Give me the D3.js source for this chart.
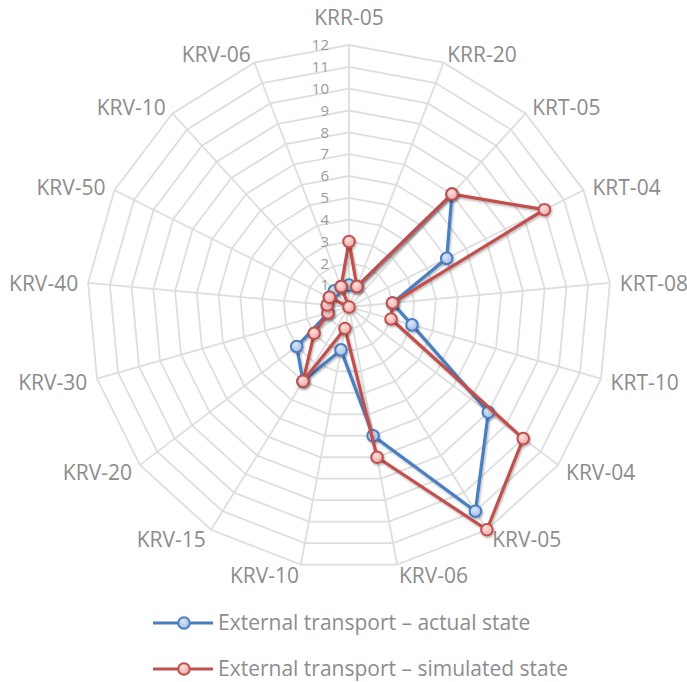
<!DOCTYPE html>
<html>
<head>
<meta charset="utf-8">
<script src="https://cdn.jsdelivr.net/npm/d3@7"></script>
<style>
  html, body { margin: 0; padding: 0; background: #ffffff; }
  svg { display: block; font-family: "Open Sans", "Liberation Sans", sans-serif; }
</style>
</head>
<body>
<svg id="chart" width="687" height="682"></svg>
<script>
// Radar categories, clockwise from the top
const categories = ["KRR-05", "KRR-20", "KRT-05", "KRT-04", "KRT-08", "KRT-10", "KRV-04", "KRV-05",
  "KRV-06", "KRV-10", "KRV-15", "KRV-20", "KRV-30", "KRV-40", "KRV-50", "KRV-10", "KRV-06"];

// Series values
const actualState    = [1, 1, 7, 5, 2, 3, 8, 11, 6, 2, 4, 3, 1, 1, 1, 1, 1];
const simulatedState = [3, 1, 7, 10, 2, 2, 10, 12, 7, 1, 4, 2, 1, 1, 1, 0, 1];

// Radial axis ticks
const tickValues = [0, 1, 2, 3, 4, 5, 6, 7, 8, 9, 10, 11, 12];

const seriesNames = ["External transport \u2013 actual state", "External transport \u2013 simulated state"];

const series = [
  { name: seriesNames[0], values: actualState, line: "#4a7ec1", fillA: "#dce6f6", fillB: "#9db8e2", id: "gBlue" },
  { name: seriesNames[1], values: simulatedState, line: "#c0504d", fillA: "#fbe0e0", fillB: "#eda3a2", id: "gRed" }
];

const svg = d3.select("#chart");
const cx = 349, cy = 307, R = 262;

const rScale = d3.scaleLinear().domain([0, 12]).range([0, R]);
const aScale = d3.scaleLinear().domain([0, categories.length]).range([0, 2 * Math.PI]);
const idx = d3.range(categories.length);

// marker gradients and shadow
const defs = svg.append("defs");
series.forEach(s => {
  const g = defs.append("radialGradient").attr("id", s.id).attr("cx", "40%").attr("cy", "35%").attr("r", "70%");
  g.append("stop").attr("offset", "0%").attr("stop-color", s.fillA);
  g.append("stop").attr("offset", "100%").attr("stop-color", s.fillB);
});
const f = defs.append("filter").attr("id", "shadow").attr("x", "-50%").attr("y", "-50%").attr("width", "200%").attr("height", "200%");
f.append("feDropShadow").attr("dx", 1).attr("dy", 1.5).attr("stdDeviation", 1.1)
  .attr("flood-color", "#000").attr("flood-opacity", 0.3);

const plot = svg.append("g").attr("transform", `translate(${cx},${cy})`);

// grid rings
const ring = v => d3.lineRadial()
  .angle(i => aScale(i))
  .radius(() => rScale(v))
  .curve(d3.curveLinearClosed)(idx);

plot.append("g").selectAll("path")
  .data(tickValues.filter(v => v > 0))
  .join("path")
  .attr("d", v => ring(v))
  .attr("fill", "none")
  .attr("stroke", "#dedede")
  .attr("stroke-width", 1.8);

// spokes
plot.append("g").selectAll("line")
  .data(idx)
  .join("line")
  .attr("x1", 0).attr("y1", 0)
  .attr("x2", i => rScale(12) * Math.sin(aScale(i)))
  .attr("y2", i => -rScale(12) * Math.cos(aScale(i)))
  .attr("stroke", "#dedede")
  .attr("stroke-width", 1.8);

// radial tick labels
plot.append("g").selectAll("text")
  .data(tickValues)
  .join("text")
  .attr("x", -20)
  .attr("y", v => -rScale(v))
  .attr("dy", "0.35em")
  .attr("text-anchor", "end")
  .attr("font-size", 15)
  .attr("fill", "#9a9a9a")
  .text(v => v);

// category labels
plot.append("g").selectAll("text")
  .data(idx)
  .join("text")
  .each(function (i) {
    const a = aScale(i);
    const s = Math.sin(a), c = Math.cos(a);
    const rr = rScale(12) + 10;
    const x = rr * s, y = -rr * c;
    const t = d3.select(this);
    if (Math.abs(s) < 0.01) {
      t.attr("x", x).attr("y", y - 10).attr("text-anchor", "middle");
    } else {
      t.attr("x", x).attr("y", y + 1.5).attr("dy", "0.35em")
        .attr("text-anchor", s > 0 ? "start" : "end");
    }
  })
  .attr("font-size", 21)
  .attr("fill", "#8c8c8c")
  .text(i => categories[i]);

// series lines and markers
const radial = d3.lineRadial()
  .angle((d, i) => aScale(i))
  .radius(d => rScale(d))
  .curve(d3.curveLinearClosed);

series.forEach(s => {
  const g = plot.append("g");
  g.append("path")
    .attr("d", radial(s.values))
    .attr("fill", "none")
    .attr("stroke", s.line)
    .attr("stroke-width", 3.2)
    .attr("stroke-linejoin", "round")
    .attr("filter", "url(#shadow)");
  g.selectAll("circle")
    .data(s.values)
    .join("circle")
    .attr("cx", (d, i) => rScale(d) * Math.sin(aScale(i)))
    .attr("cy", (d, i) => -rScale(d) * Math.cos(aScale(i)))
    .attr("r", 5.8)
    .attr("fill", `url(#${s.id})`)
    .attr("stroke", s.line)
    .attr("stroke-width", 2)
    .attr("filter", "url(#shadow)");
});

// legend
const legend = svg.append("g");
series.forEach((s, k) => {
  const y = 623 + k * 46;
  const g = legend.append("g").attr("transform", `translate(0,${y})`);
  g.append("line").attr("x1", 153).attr("x2", 213).attr("y1", 0).attr("y2", 0)
    .attr("stroke", s.line).attr("stroke-width", 3.2);
  g.append("circle").attr("cx", 184).attr("cy", 0).attr("r", 5.8)
    .attr("fill", `url(#${s.id})`).attr("stroke", s.line).attr("stroke-width", 2);
  g.append("text").attr("x", 218).attr("y", 0).attr("dy", "0.35em")
    .attr("font-size", 21).attr("fill", "#8c8c8c").text(s.name);
});
</script>
</body>
</html>
